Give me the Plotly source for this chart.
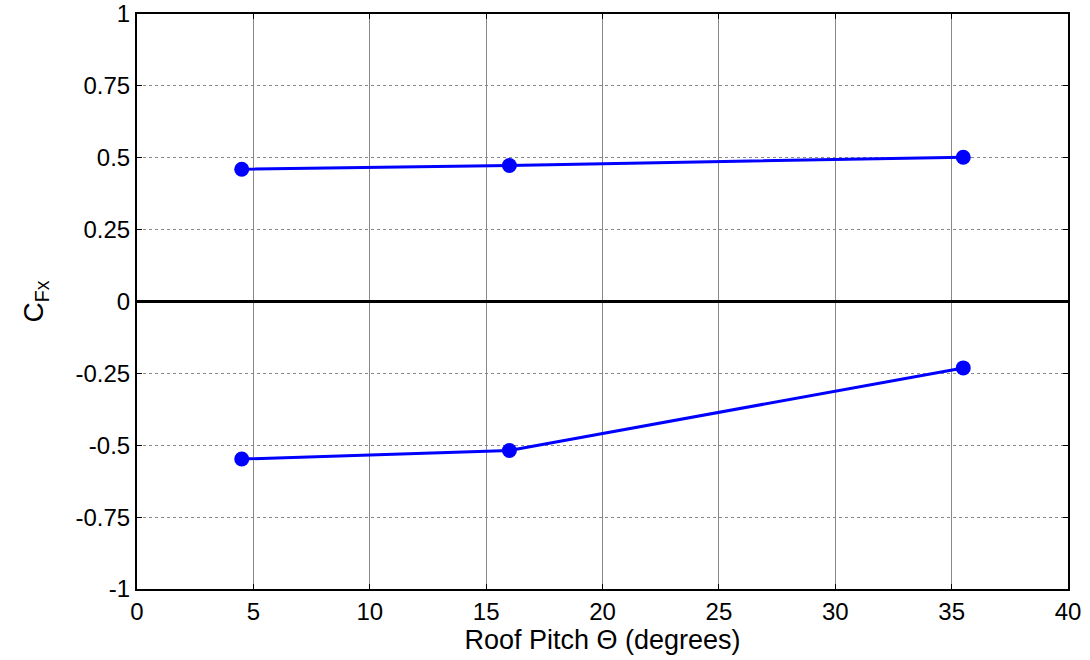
import plotly.graph_objects as go

pitch = [4.5, 16, 35.5]
cfx_upper = [0.46, 0.473, 0.502]
cfx_lower = [-0.548, -0.518, -0.231]

x_ticks = [0, 5, 10, 15, 20, 25, 30, 35, 40]
y_ticks = [-1, -0.75, -0.5, -0.25, 0, 0.25, 0.5, 0.75, 1]
y_labels = ["-1", "-0.75", "-0.5", "-0.25", "0", "0.25", "0.5", "0.75", "1"]

fig = go.Figure()
for ys in (cfx_upper, cfx_lower):
    fig.add_trace(go.Scatter(
        x=pitch, y=ys, mode="lines+markers",
        line=dict(color="#0000FF", width=3),
        marker=dict(color="#0000FF", size=15),
        showlegend=False,
    ))

font = dict(family="Liberation Sans, Arial, sans-serif", size=24, color="black")

fig.update_layout(
    width=1090, height=660,
    margin=dict(l=137, r=22, t=14, b=71),
    paper_bgcolor="white", plot_bgcolor="white",
    font=font,
    xaxis=dict(
        range=[0, 40], tickvals=x_ticks, ticktext=[str(v) for v in x_ticks],
        tickfont=dict(size=24),
        showgrid=True, gridcolor="#888888", gridwidth=1,
        zeroline=False, showline=True, linecolor="black", linewidth=2, mirror="ticks",
        ticks="inside", ticklen=5, tickcolor="black",
        title=dict(text="Roof Pitch \u0398 (degrees)", font=dict(size=27), standoff=6),
        automargin=False,
    ),
    yaxis=dict(
        range=[-1, 1], tickvals=y_ticks, ticktext=y_labels,
        tickfont=dict(size=24),
        showgrid=True, gridcolor="#888888", gridwidth=1, griddash="dot",
        zeroline=True, zerolinecolor="black", zerolinewidth=2.5,
        showline=True, linecolor="black", linewidth=2, mirror="ticks",
        ticks="inside", ticklen=5, tickcolor="black",
        title=dict(text="C<sub>Fx</sub>", font=dict(size=28), standoff=24),
        automargin=False,
    ),
)

fig.write_html("out.html")
